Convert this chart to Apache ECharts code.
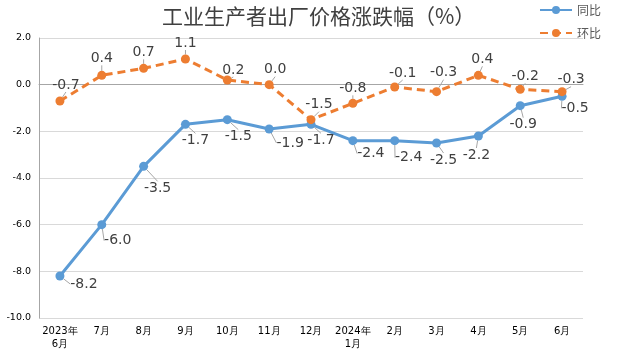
<!DOCTYPE html>
<html lang="zh">
<head>
    <meta charset="UTF-8">
    <title>工业生产者出厂价格涨跌幅</title>
    <script type="text/javascript" src="https://cdn.jsdelivr.net/npm/echarts@6/dist/echarts.min.js"></script>
</head>
<body style="margin:0">
<div id="main" style="width:623px;height:351px;"></div>
<script type="text/javascript">
    // 数据
    var months = ['2023年\n6月', '7月', '8月', '9月', '10月', '11月', '12月', '2024年\n1月', '2月', '3月', '4月', '5月', '6月'];
    var yoy = [-8.2, -6.0, -3.5, -1.7, -1.5, -1.9, -1.7, -2.4, -2.4, -2.5, -2.2, -0.9, -0.5];
    var mom = [-0.7, 0.4, 0.7, 1.1, 0.2, 0.0, -1.5, -0.8, -0.1, -0.3, 0.4, -0.2, -0.3];

    // 标签偏移（像素）
    var yoyShift = [[24, 8], [16, 16], [14, 22], [10, 16], [11, 17], [21, 14], [10, 16], [18, 13], [14, 17], [7, 17], [-2, 19], [3, 19], [13, 12]];
    var momShift = [[6, -16], [0, -17], [0, -16], [0, -16], [6, -10], [6, -15], [8, -15], [0, -15], [8, -14], [7, -19], [4, -16], [5, -13], [9, -12]];

    var myChart = echarts.init(document.getElementById('main'));

    function makeLabel() {
        return {
            show: true,
            position: 'inside',
            fontSize: 14,
            color: '#404040',
            fontFamily: 'DejaVu Sans',
            formatter: function (p) { return p.value.toFixed(1); }
        };
    }

    var option = {
        animation: false,
        title: {
            text: '工业生产者出厂价格涨跌幅（%）',
            left: 157,
            top: 1,
            textStyle: {fontSize: 21, fontWeight: 'normal', color: '#404040', fontFamily: 'Noto Sans CJK SC'}
        },
        legend: {
            orient: 'vertical',
            right: 22,
            top: 4,
            padding: 0,
            itemWidth: 32,
            itemHeight: 10,
            itemGap: 11,
            textStyle: {fontSize: 12, color: '#595959', fontFamily: 'Noto Sans CJK SC'},
            data: ['同比', '环比']
        },
        grid: {left: 39, right: 40, top: 38, bottom: 33},
        xAxis: {
            type: 'category',
            data: months,
            axisLine: {lineStyle: {color: '#A6A6A6'}},
            axisTick: {inside: true, length: 4, lineStyle: {color: '#A6A6A6'}},
            axisLabel: {fontSize: 10, color: '#000', fontFamily: 'DejaVu Sans', lineHeight: 13, margin: 7, interval: 0}
        },
        yAxis: {
            type: 'value',
            min: -10,
            max: 2,
            interval: 2,
            axisLine: {show: true, lineStyle: {color: '#A6A6A6'}},
            axisTick: {show: false},
            splitLine: {lineStyle: {color: '#D9D9D9'}},
            axisLabel: {fontSize: 9.5, color: '#000', fontFamily: 'DejaVu Sans', margin: 8,
                formatter: function (v) { return v.toFixed(1); }}
        },
        series: [
            {
                name: '同比',
                type: 'line',
                data: yoy,
                symbol: 'circle',
                symbolSize: 9,
                itemStyle: {color: '#5B9BD5'},
                lineStyle: {width: 3, color: '#5B9BD5'},
                label: makeLabel(),
                labelLine: {show: true, lineStyle: {color: '#A6A6A6', width: 1}},
                labelLayout: function (p) {
                    var s = yoyShift[p.dataIndex];
                    return {dx: s[0], dy: s[1]};
                }
            },
            {
                name: '环比',
                type: 'line',
                data: mom,
                symbol: 'circle',
                symbolSize: 9,
                itemStyle: {color: '#ED7D31'},
                lineStyle: {width: 3, type: [8, 5], color: '#ED7D31'},
                label: makeLabel(),
                labelLine: {show: true, lineStyle: {color: '#A6A6A6', width: 1}},
                labelLayout: function (p) {
                    var s = momShift[p.dataIndex];
                    return {dx: s[0], dy: s[1]};
                }
            }
        ]
    };

    myChart.setOption(option);
</script>
</body>
</html>
